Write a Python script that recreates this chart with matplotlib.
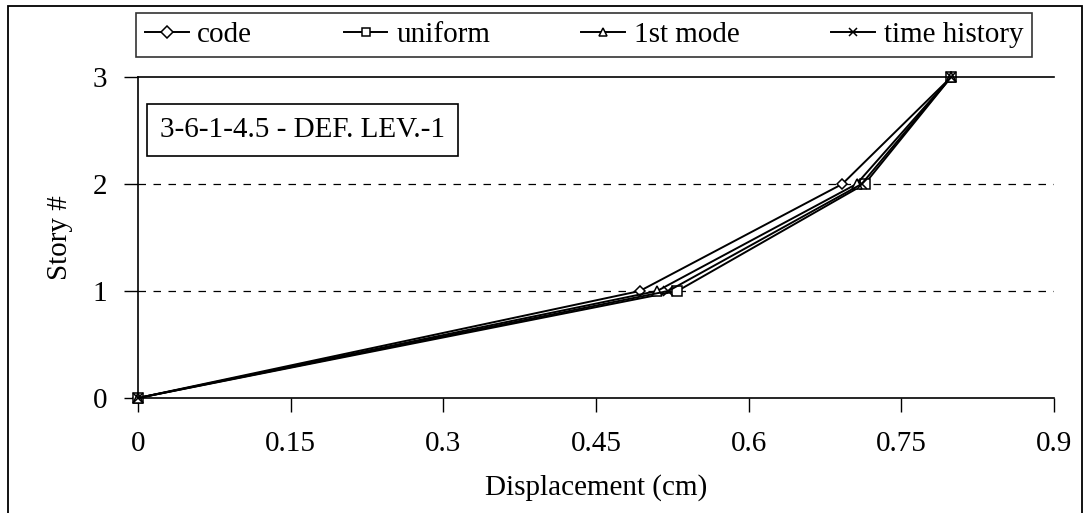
import matplotlib
matplotlib.use("Agg")
import matplotlib.pyplot as plt
from matplotlib.patches import Rectangle

# story levels and displacements (cm)
stories = [0, 1, 2, 3]
code = [0.0, 0.493, 0.692, 0.799]
uniform = [0.0, 0.530, 0.714, 0.799]
first_mode = [0.0, 0.510, 0.706, 0.799]
time_history = [0.0, 0.521, 0.711, 0.799]

x_ticks = [0, 0.15, 0.3, 0.45, 0.6, 0.75, 0.9]
x_labels = ["0", "0.15", "0.3", "0.45", "0.6", "0.75", "0.9"]

plt.rcParams['font.family'] = ['Liberation Serif', 'DejaVu Serif']
FS = 21

W, H = 1085, 513
fig = plt.figure(figsize=(W / 100, H / 100), dpi=100)
ax = fig.add_axes([138 / W, 1 - 398 / H, (1054 - 138) / W, (398 - 77) / H])

style = dict(color="black", lw=1.4, mfc="white", mec="black", mew=1.1, clip_on=False)
ax.plot(code, stories, marker="D", markersize=5, **style, label="code")
ax.plot(uniform, stories, marker="s", markersize=6.5, **style, label="uniform")
ax.plot(first_mode, stories, marker="^", markersize=7, **style, label="1st mode")
ax.plot(time_history, stories, marker="x", markersize=7, **style, label="time history")

ax.set_xlim(0, 0.9)
ax.set_ylim(0, 3)
ax.set_xticks(x_ticks)
ax.set_xticklabels(x_labels)
ax.set_yticks(stories)
for y in [1, 2]:
    ax.axhline(y, color="black", lw=0.9, ls=(0, (6, 6)), zorder=0)

ax.spines['right'].set_visible(False)
for s in ['left', 'bottom', 'top']:
    ax.spines[s].set_linewidth(1.2)
ax.tick_params(axis="both", labelsize=FS, length=10, width=1.0, direction="out")
ax.tick_params(axis="x", pad=14)
ax.tick_params(axis="y", pad=12)
ax.set_xlabel("Displacement (cm)", fontsize=FS, labelpad=12)
ax.set_ylabel("Story #", fontsize=FS, labelpad=14)

fig.text(160 / W, 1 - 130 / H, "3-6-1-4.5 - DEF. LEV.-1", fontsize=FS, va="center", ha="left",
         bbox=dict(boxstyle="square,pad=0.45", fc="white", ec="black", lw=1.2))

leg = fig.legend(loc="upper left", ncol=4, mode="expand",
                 bbox_to_anchor=(136 / W, 1 - 60 / H, (1032 - 136) / W, 47 / H),
                 fontsize=FS, frameon=True, fancybox=False, edgecolor="black",
                 handlelength=1.5, handletextpad=0.3, borderaxespad=0, borderpad=0.3)
leg.get_frame().set_linewidth(1.2)
for h in leg.legend_handles:
    h.set_markersize(6)

fig.patches.append(Rectangle((8 / W, -0.1), (1082 - 8) / W, 1.1 - 6 / H, transform=fig.transFigure,
                             fill=False, ec="black", lw=1.3))

fig.savefig("out.png", dpi=100)
